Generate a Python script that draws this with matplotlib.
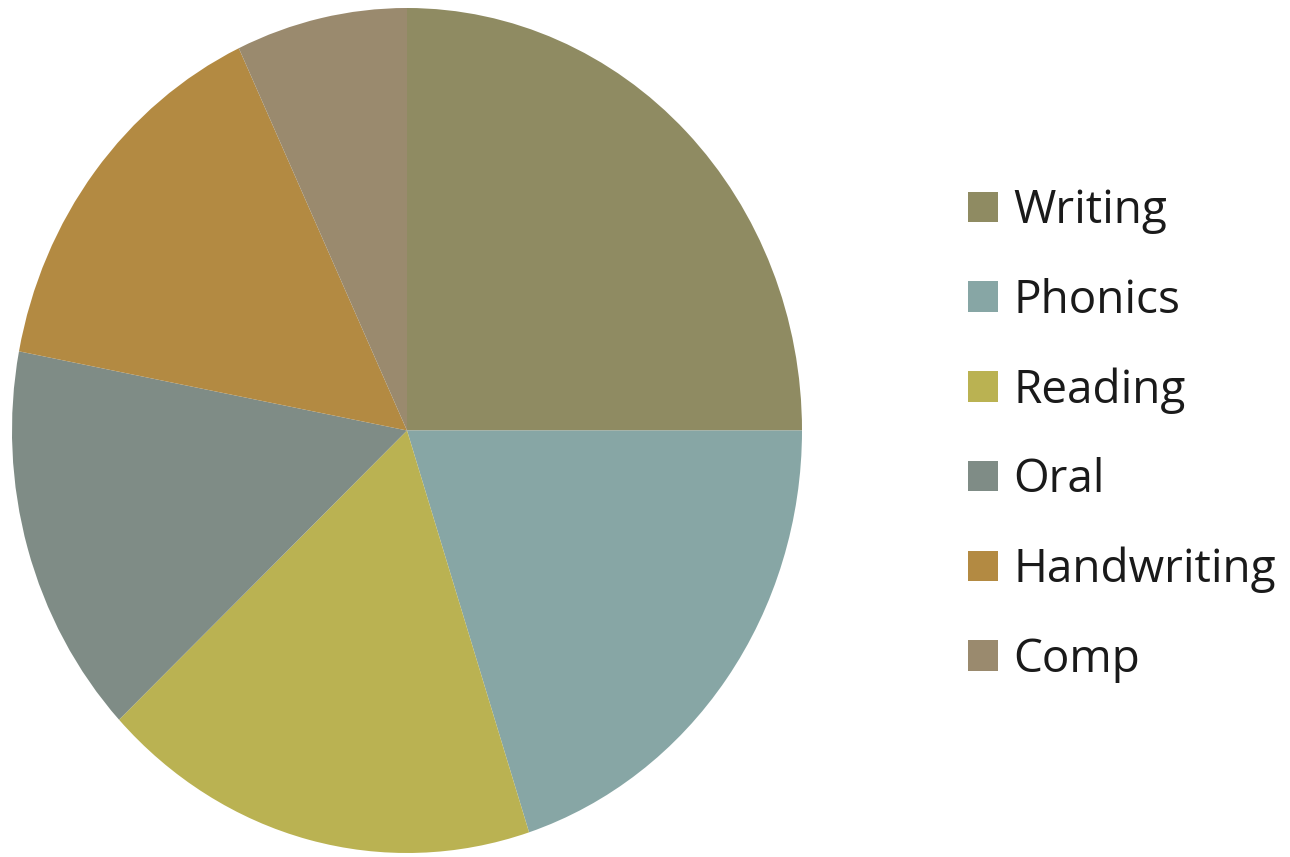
import matplotlib
matplotlib.use('Agg')
import matplotlib.pyplot as plt

plt.rcParams['font.family'] = ['Open Sans', 'DejaVu Sans']

# data
subjects = ['Writing', 'Phonics', 'Reading', 'Oral', 'Handwriting', 'Comp']
shares = [25, 20, 18, 15, 15, 7]
colors = ['#8F8B62', '#87A6A5', '#BAB252', '#7F8C86', '#B38A42', '#9A8A6E']

fig = plt.figure(figsize=(12.9, 8.57), dpi=100)
# pie is slightly taller than wide in the reference, so aspect stays auto
ax = fig.add_axes([12 / 1290, 4 / 857, 790 / 1290, 845 / 857])
wedges, _ = ax.pie(shares, colors=colors, startangle=90, counterclock=False,
                   wedgeprops=dict(linewidth=0))
ax.set_aspect('auto')
ax.set_xlim(-1, 1)
ax.set_ylim(-1, 1)
ax.axis('off')

fig.legend(wedges, subjects, loc='upper left',
           bbox_to_anchor=(968 / 1290, 1 - 188 / 857),
           frameon=False, fontsize=33, borderpad=0, borderaxespad=0,
           handlelength=0.655, handleheight=0.655, handletextpad=0.33,
           labelspacing=0.95, labelcolor='#1a1a1a')

fig.savefig('out.png', dpi=100)
